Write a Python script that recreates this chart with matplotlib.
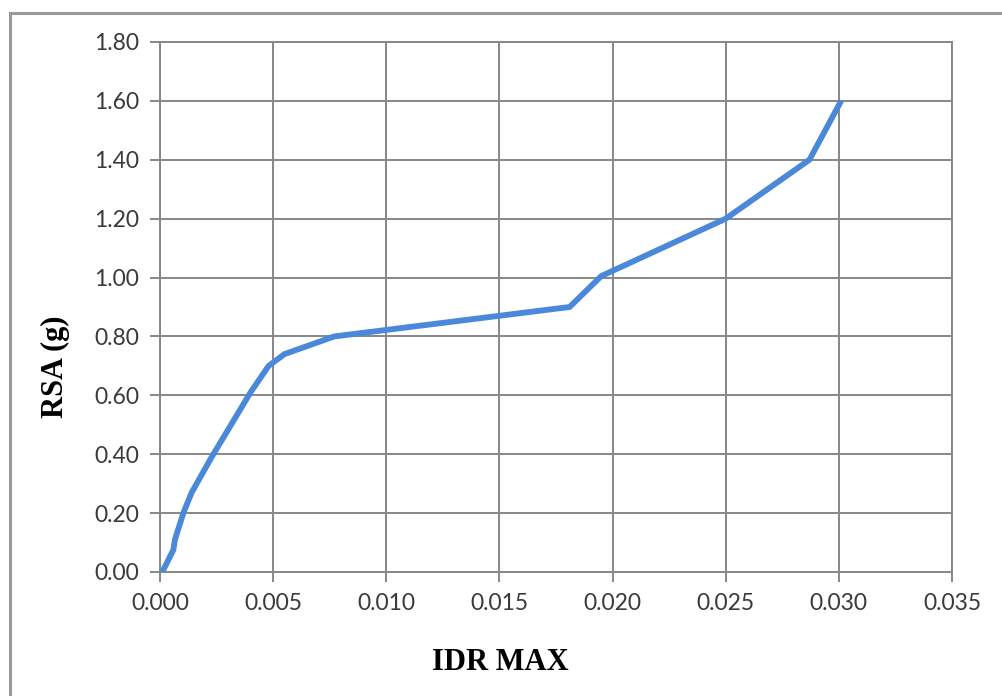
import matplotlib.pyplot as plt
from matplotlib.lines import Line2D

# IDA curve: max inter-storey drift vs spectral acceleration
idr_max = [0.0001, 0.00059, 0.00066, 0.00103, 0.0014, 0.00228, 0.0040, 0.0048,
           0.0055, 0.0077, 0.0181, 0.0195, 0.0250, 0.0287, 0.0301]
rsa_g = [0.00, 0.075, 0.11, 0.20, 0.27, 0.39, 0.61, 0.70,
         0.74, 0.80, 0.90, 1.005, 1.20, 1.40, 1.60]

x_ticks = [0.000, 0.005, 0.010, 0.015, 0.020, 0.025, 0.030, 0.035]
y_ticks = [0.00, 0.20, 0.40, 0.60, 0.80, 1.00, 1.20, 1.40, 1.60, 1.80]

grid_col = "#878787"
line_col = "#4A88DA"

fig = plt.figure(figsize=(10.02, 6.96), dpi=100)
ax = fig.add_axes([160 / 1002, 1 - 572 / 696, 792 / 1002, 530 / 696])

ax.plot(idr_max, rsa_g, color=line_col, linewidth=4.2, solid_joinstyle="round",
        solid_capstyle="butt", zorder=3)

ax.set_xlim(0, 0.035)
ax.set_ylim(0, 1.80)
ax.set_xticks(x_ticks)
ax.set_yticks(y_ticks)
ax.set_xticklabels([f"{v:.3f}" for v in x_ticks], fontfamily="Lato", fontsize=16.5, color="#3a3a3a")
ax.set_yticklabels([f"{v:.2f}" for v in y_ticks], fontfamily="Lato", fontsize=16.5, color="#3a3a3a")
ax.tick_params(axis="both", direction="out", length=7, width=1.4, color=grid_col)
ax.tick_params(axis="x", pad=8)
ax.tick_params(axis="y", pad=8)

ax.grid(True, color=grid_col, linewidth=1.4)
ax.set_axisbelow(True)
for s in ax.spines.values():
    s.set_color(grid_col)
    s.set_linewidth(1.4)

fig.text(500 / 1002, 1 - 663 / 696, "IDR MAX", ha="center", va="center",
         fontfamily="Liberation Serif", fontweight="bold", fontsize=22)
fig.text(55 / 1002, 1 - 367 / 696, "RSA (g)", ha="center", va="center", rotation=90,
         fontfamily="Liberation Serif", fontweight="bold", fontsize=22)

# outer chart border (runs off the right and bottom edges)
fig.add_artist(Line2D([10 / 1002, 1.0], [1 - 13 / 696] * 2, transform=fig.transFigure,
                      color="#9a9a9a", linewidth=2.2))
fig.add_artist(Line2D([10 / 1002] * 2, [0.0, 1 - 13 / 696], transform=fig.transFigure,
                      color="#9a9a9a", linewidth=2.2))

fig.savefig("out.png", dpi=100)
plt.close(fig)
